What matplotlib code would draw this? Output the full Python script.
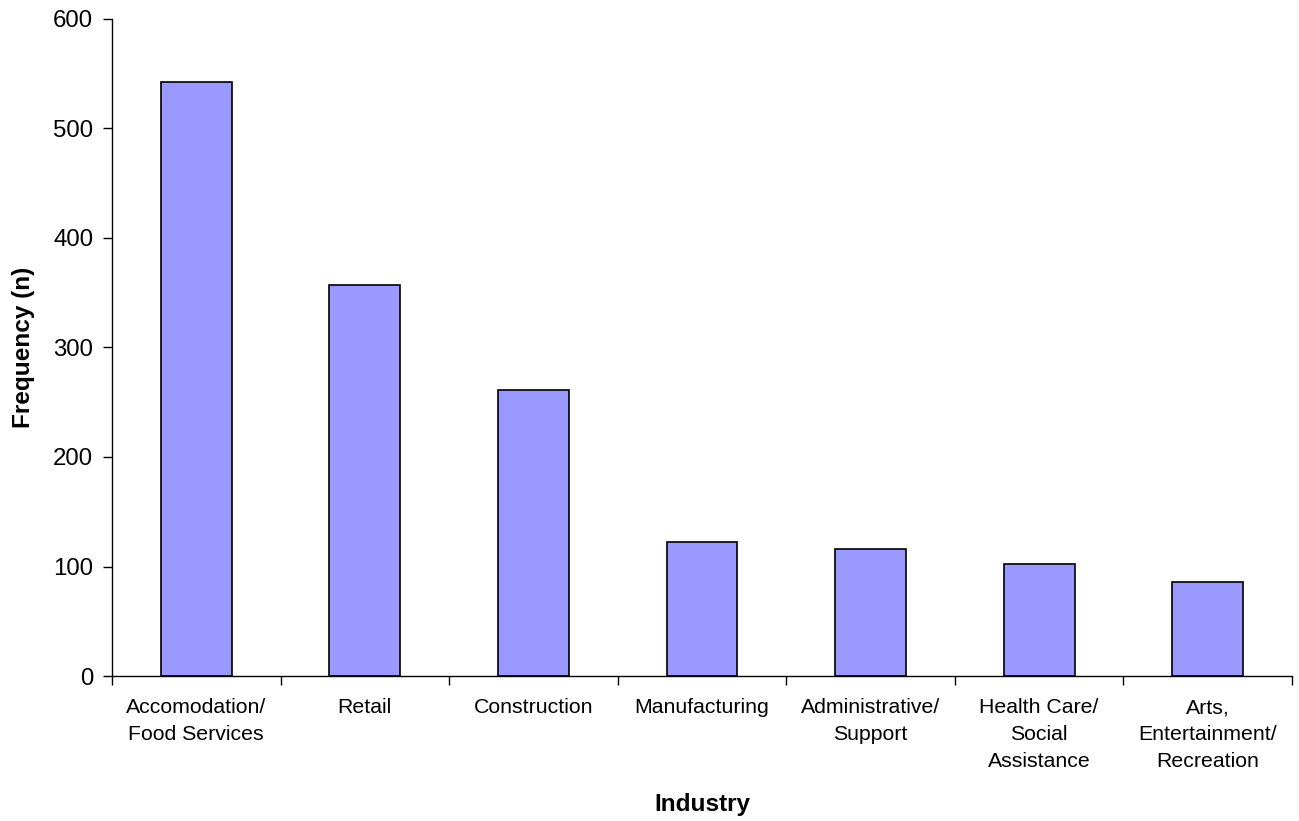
import matplotlib
matplotlib.use("Agg")
import matplotlib.pyplot as plt

industries = [
    "Accomodation/\nFood Services",
    "Retail",
    "Construction",
    "Manufacturing",
    "Administrative/\nSupport",
    "Health Care/\nSocial\nAssistance",
    "Arts,\nEntertainment/\nRecreation",
]
frequency = [542, 357, 261, 122, 116, 102, 86]
y_ticks = [0, 100, 200, 300, 400, 500, 600]

plt.rcParams["font.family"] = ["Liberation Sans", "DejaVu Sans"]

fig = plt.figure(figsize=(12.99, 8.21), dpi=100)
ax = fig.add_axes([0.0862, 0.1766, 0.9084, 0.8003])

x = list(range(len(industries)))
ax.bar(x, frequency, width=0.42, color="#9999FF", edgecolor="black", linewidth=1.2)

ax.set_xlim(-0.5, len(industries) - 0.5)
ax.set_ylim(0, 600)
ax.set_yticks(y_ticks)
ax.tick_params(axis="y", labelsize=17.3, length=6.5, width=1, direction="out", pad=7)

# category labels centred under bars, ticks on the category boundaries
ax.set_xticks(x)
ax.set_xticklabels(industries, fontsize=15.3, linespacing=1.52)
ax.tick_params(axis="x", length=0, pad=16)
ax.set_xticks([i - 0.5 for i in range(len(industries) + 1)], minor=True)
ax.tick_params(axis="x", which="minor", length=6.5, width=1, direction="out")

for side in ("top", "right"):
    ax.spines[side].set_visible(False)
for side in ("left", "bottom"):
    ax.spines[side].set_linewidth(1)

ax.set_ylabel("Frequency (n)", fontsize=17.6, fontweight="bold", labelpad=13)
ax.set_xlabel("Industry", fontsize=17.6, fontweight="bold", labelpad=16)

fig.savefig("out.png", dpi=100)
